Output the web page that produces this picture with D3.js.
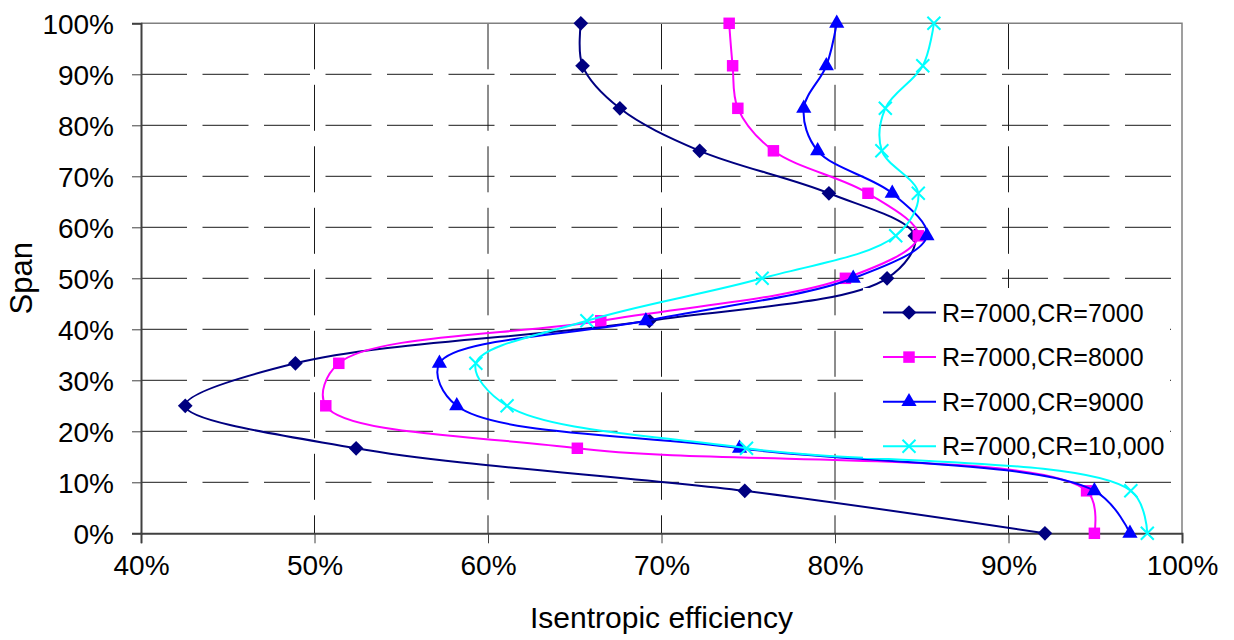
<!DOCTYPE html>
<html>
<head>
<meta charset="utf-8">
<script src="https://cdn.jsdelivr.net/npm/d3@7"></script>
<style>
  body { margin: 0; background: #fff; }
  svg { display: block; font-family: "Liberation Sans", Arial, sans-serif; }
</style>
</head>
<body>
<svg id="chart" width="1234" height="640"></svg>
<script>
// Spanwise stations (% span) at which efficiency was evaluated
const spans = [0, 8.33, 16.67, 25, 33.33, 41.67, 50, 58.33, 66.67, 75, 83.33, 91.67, 100];

// Isentropic efficiency (%) at each station, one array per case
const effCR7000  = [92.1, 74.8, 52.4, 42.55, 48.9, 69.3, 83.0, 84.6, 79.65, 72.2, 67.6, 65.45, 65.35];
const effCR8000  = [94.95, 94.5, 65.15, 50.65, 51.4, 66.5, 80.6, 84.8, 81.9, 76.45, 74.4, 74.1, 73.9];
const effCR9000  = [97.0, 94.95, 74.5, 58.2, 57.2, 69.1, 81.05, 85.3, 83.3, 79.0, 78.2, 79.5, 80.1];
const effCR10000 = [98.0, 97.05, 74.9, 61.1, 59.3, 65.7, 75.8, 83.5, 84.8, 82.7, 82.9, 85.06, 85.7];

const seriesNames = ["R=7000,CR=7000", "R=7000,CR=8000", "R=7000,CR=9000", "R=7000,CR=10,000"];
const seriesColors = ["#000080", "#ff00ff", "#0000ff", "#00ffff"];
const seriesMarkers = ["diamond", "square", "triangle", "cross"];

const xTicks = [40, 50, 60, 70, 80, 90, 100];
const yTicks = [0, 10, 20, 30, 40, 50, 60, 70, 80, 90, 100];
const xTitle = "Isentropic efficiency";
const yTitle = "Span";

const allSeries = [effCR7000, effCR8000, effCR9000, effCR10000].map((vals, i) => ({
  name: seriesNames[i],
  color: seriesColors[i],
  marker: seriesMarkers[i],
  points: vals.map((v, j) => ({ eff: v, span: spans[j] }))
}));

const svg = d3.select("#chart");
const plot = { left: 141, right: 1182, top: 23.3, bottom: 533.3 };

const x = d3.scaleLinear().domain([40, 100]).range([plot.left, plot.right]);
const y = d3.scaleLinear().domain([0, 100]).range([plot.bottom, plot.top]);

// Dashed grid
const grid = svg.append("g").attr("stroke", "#1a1a1a").attr("stroke-width", 1)
  .attr("stroke-dasharray", "46,15.5");
grid.selectAll("line.h").data(yTicks.filter(t => t > 0 && t < 100)).join("line")
  .attr("class", "h")
  .attr("x1", plot.left).attr("x2", plot.right)
  .attr("y1", d => y(d)).attr("y2", d => y(d));
grid.selectAll("line.v").data(xTicks.filter(t => t > 40 && t < 100)).join("line")
  .attr("class", "v")
  .attr("y1", plot.top).attr("y2", plot.bottom)
  .attr("x1", d => x(d)).attr("x2", d => x(d));

// Plot-area frame (top and right edges)
svg.append("path")
  .attr("d", `M${plot.left},${plot.top}H${plot.right}V${plot.bottom}`)
  .attr("fill", "none").attr("stroke", "#808080").attr("stroke-width", 1.5);

// Axes
const fmt = d => d + "%";
const yAxis = svg.append("g").attr("transform", `translate(${plot.left},0)`)
  .call(d3.axisLeft(y).tickValues(yTicks).tickFormat(fmt).tickSize(9).tickPadding(18));
const xAxis = svg.append("g").attr("transform", `translate(0,${plot.bottom})`)
  .call(d3.axisBottom(x).tickValues(xTicks).tickFormat(fmt).tickSize(10).tickPadding(12));

[xAxis, yAxis].forEach(ax => {
  ax.select(".domain").attr("stroke", "#404040").attr("stroke-width", 2);
  ax.selectAll(".tick line").attr("stroke", "#404040").attr("stroke-width", 1);
  ax.selectAll(".tick text").attr("fill", "#000").attr("font-size", 28)
    .attr("font-family", "'Liberation Sans', Arial, sans-serif");
});
yAxis.selectAll(".tick text").attr("dy", "0.36em");
xAxis.selectAll(".tick text").attr("dy", "0.72em");

// Axis titles
svg.append("text")
  .attr("x", (plot.left + plot.right) / 2).attr("y", 628)
  .attr("text-anchor", "middle").attr("font-size", 30).attr("fill", "#000")
  .text(xTitle);
svg.append("text")
  .attr("transform", `translate(32,${(plot.top + plot.bottom) / 2}) rotate(-90)`)
  .attr("text-anchor", "middle").attr("font-size", 31).attr("fill", "#000")
  .text(yTitle);

// Marker shapes
function markerPath(kind) {
  if (kind === "diamond") return d3.symbol(d3.symbolSquare, 108)();
  if (kind === "square") return d3.symbol(d3.symbolSquare, 132)();
  if (kind === "triangle") return d3.symbol(d3.symbolTriangle, 100)();
  return "M-6.5,-6.5L6.5,6.5M6.5,-6.5L-6.5,6.5";
}
function drawMarker(g, kind, color) {
  const p = g.append("path").attr("d", markerPath(kind));
  if (kind === "cross") {
    p.attr("fill", "none").attr("stroke", color).attr("stroke-width", 2);
  } else {
    p.attr("fill", color).attr("stroke", "none");
    if (kind === "diamond") p.attr("transform", "rotate(45)");
  }
  return p;
}

// Smoothed series lines with markers
const line = d3.line()
  .x(d => x(d.eff)).y(d => y(d.span))
  .curve(d3.curveCatmullRom.alpha(0.5));

allSeries.forEach(s => {
  const g = svg.append("g");
  g.append("path").datum(s.points)
    .attr("d", line)
    .attr("fill", "none").attr("stroke", s.color).attr("stroke-width", 2);
  s.points.forEach(p => {
    const m = g.append("g").attr("transform", `translate(${x(p.eff)},${y(p.span)})`);
    drawMarker(m, s.marker, s.color);
  });
});

// Legend
const legend = svg.append("g");
legend.append("rect")
  .attr("x", 863).attr("y", 288).attr("width", 307).attr("height", 170)
  .attr("fill", "#fff");
allSeries.forEach((s, i) => {
  const row = legend.append("g").attr("transform", `translate(883,${312.5 + i * 44.6})`);
  row.append("line").attr("x1", 0).attr("x2", 53).attr("y1", 0).attr("y2", 0)
    .attr("stroke", s.color).attr("stroke-width", 2);
  drawMarker(row.append("g").attr("transform", "translate(26,0)"), s.marker, s.color);
  row.append("text").attr("x", 59).attr("y", 0).attr("dy", "0.36em")
    .attr("font-size", 25).attr("fill", "#000").text(s.name);
});
</script>
</body>
</html>
